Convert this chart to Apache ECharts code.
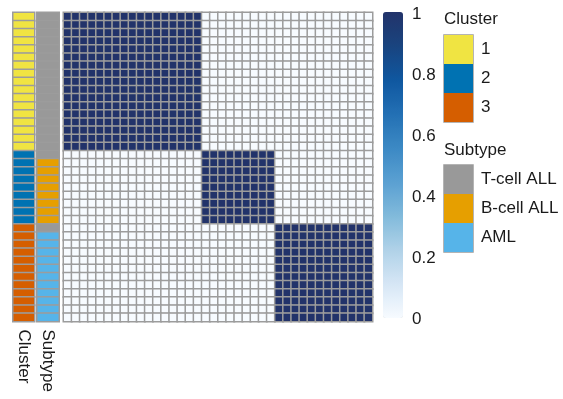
<!DOCTYPE html>
<html>
<head>
<meta charset="utf-8">
<script src="https://cdn.jsdelivr.net/npm/echarts@6/dist/echarts.min.js"></script>
<style>
  html, body { margin: 0; padding: 0; background: #fff; }
  #chart { width: 563px; height: 399px; }
</style>
</head>
<body>
<div id="chart"></div>
<script>
// consensus matrix, one string per sample row (38 samples)
const matrixRows = [
  '11111111111111111000000000000000000000',
  '11111111111111111000000000000000000000',
  '11111111111111111000000000000000000000',
  '11111111111111111000000000000000000000',
  '11111111111111111000000000000000000000',
  '11111111111111111000000000000000000000',
  '11111111111111111000000000000000000000',
  '11111111111111111000000000000000000000',
  '11111111111111111000000000000000000000',
  '11111111111111111000000000000000000000',
  '11111111111111111000000000000000000000',
  '11111111111111111000000000000000000000',
  '11111111111111111000000000000000000000',
  '11111111111111111000000000000000000000',
  '11111111111111111000000000000000000000',
  '11111111111111111000000000000000000000',
  '11111111111111111000000000000000000000',
  '00000000000000000111111111000000000000',
  '00000000000000000111111111000000000000',
  '00000000000000000111111111000000000000',
  '00000000000000000111111111000000000000',
  '00000000000000000111111111000000000000',
  '00000000000000000111111111000000000000',
  '00000000000000000111111111000000000000',
  '00000000000000000111111111000000000000',
  '00000000000000000111111111000000000000',
  '00000000000000000000000000111111111111',
  '00000000000000000000000000111111111111',
  '00000000000000000000000000111111111111',
  '00000000000000000000000000111111111111',
  '00000000000000000000000000111111111111',
  '00000000000000000000000000111111111111',
  '00000000000000000000000000111111111111',
  '00000000000000000000000000111111111111',
  '00000000000000000000000000111111111111',
  '00000000000000000000000000111111111111',
  '00000000000000000000000000111111111111',
  '00000000000000000000000000111111111111'
]

// row annotations
const clusterAnno = [
  1, 1, 1, 1, 1, 1, 1, 1, 1, 1, 1, 1, 1, 1, 1, 1, 1,
  2, 2, 2, 2, 2, 2, 2, 2, 2,
  3, 3, 3, 3, 3, 3, 3, 3, 3, 3, 3, 3
]
// 0 = T-cell ALL, 1 = B-cell ALL, 2 = AML
const subtypeAnno = [
  0, 0, 0, 0, 0, 0, 0, 0, 0, 0, 0, 0, 0, 0, 0, 0, 0,
  0, 1, 1, 1, 1, 1, 1, 1, 1,
  0, 2, 2, 2, 2, 2, 2, 2, 2, 2, 2, 2
]

const clusterLabels = ['1', '2', '3']
const clusterColors = ['#F0E442', '#0072B2', '#D55E00']
const subtypeLabels = ['T-cell ALL', 'B-cell ALL', 'AML']
const subtypeColors = ['#999999', '#E69F00', '#56B4E9']
const colorbarTicks = [0, 0.2, 0.4, 0.6, 0.8, 1]

const FONT = '"Liberation Sans", Arial, Helvetica, sans-serif'
const BORDER = '#9c9c9c'
const n = matrixRows.length
const samples = matrixRows.map((_, i) => 'S' + (i + 1))

const heatData = []
matrixRows.forEach((row, y) => {
  row.split('').forEach((ch, x) => heatData.push([x, y, Number(ch)]))
})
const clusterData = clusterAnno.map((c, i) => [0, i, c])
const subtypeData = subtypeAnno.map((s, i) => [0, i, s])

const chart = echarts.init(document.getElementById('chart'))

const hiddenCat = (data, extra) => Object.assign({
  type: 'category',
  data: data,
  axisLine: { show: false },
  axisTick: { show: false },
  axisLabel: { show: false },
  splitLine: { show: false }
}, extra || {})

const annoGrid = { top: 12.5, height: 309 }

chart.setOption({
  animation: false,
  textStyle: { fontFamily: FONT },
  title: [
    { text: 'Cluster', left: 444, top: 11, padding: 0,
      textStyle: { fontSize: 17, fontWeight: 'normal', color: '#1a1a1a', fontFamily: FONT } },
    { text: 'Subtype', left: 444, top: 142, padding: 0,
      textStyle: { fontSize: 17, fontWeight: 'normal', color: '#1a1a1a', fontFamily: FONT } }
  ],
  grid: [
    Object.assign({ left: 13, width: 21.5 }, annoGrid),
    Object.assign({ left: 37, width: 22 }, annoGrid),
    { left: 63.5, top: 12.5, width: 309, height: 309 },
    // axis for colorbar tick labels
    { left: 383, top: 14, width: 20, height: 305 }
  ],
  xAxis: [
    hiddenCat(['Cluster'], {
      gridIndex: 0,
      axisLabel: { show: true, rotate: -90, margin: 8, fontSize: 17, color: '#1a1a1a' }
    }),
    hiddenCat(['Subtype'], {
      gridIndex: 1,
      axisLabel: { show: true, rotate: -90, margin: 8, fontSize: 17, color: '#1a1a1a' }
    }),
    hiddenCat(samples, { gridIndex: 2 }),
    { type: 'value', gridIndex: 3, show: false }
  ],
  yAxis: [
    hiddenCat(samples, { gridIndex: 0, inverse: true }),
    hiddenCat(samples, { gridIndex: 1, inverse: true }),
    hiddenCat(samples, { gridIndex: 2, inverse: true }),
    {
      type: 'value', gridIndex: 3, min: 0, max: 1, interval: 0.2,
      position: 'right',
      axisLine: { show: false },
      axisTick: { show: false },
      splitLine: { show: false },
      axisLabel: { margin: 9, fontSize: 17, color: '#1a1a1a' },
      data: colorbarTicks
    }
  ],
  visualMap: [
    {
      type: 'continuous',
      seriesIndex: 0,
      dimension: 2,
      min: 0,
      max: 1,
      calculable: false,
      left: 383,
      top: 12,
      padding: 0,
      itemWidth: 20,
      itemHeight: 306,
      text: null,
      inRange: {
        color: ['#f7fbff', '#d6e6f5', '#b0d2e8', '#81badb', '#5aa0d2',
                '#3c89c4', '#2370b4', '#0f57a0', '#19447f', '#22336a']
      }
    },
    {
      type: 'piecewise',
      seriesIndex: 1,
      dimension: 2,
      left: 444,
      top: 35,
      padding: 0,
      inverse: true,
      align: 'left',
      itemWidth: 29,
      itemHeight: 29,
      itemGap: 0,
      itemSymbol: 'rect',
      textGap: 8,
      textStyle: { fontSize: 17, color: '#1a1a1a' },
      pieces: clusterLabels.map((l, i) => ({ value: i + 1, label: l, color: clusterColors[i] }))
    },
    {
      type: 'piecewise',
      seriesIndex: 2,
      dimension: 2,
      left: 444,
      top: 165,
      padding: 0,
      inverse: true,
      align: 'left',
      itemWidth: 29,
      itemHeight: 29,
      itemGap: 0,
      itemSymbol: 'rect',
      textGap: 8,
      textStyle: { fontSize: 17, color: '#1a1a1a' },
      pieces: subtypeLabels.map((l, i) => ({ value: i, label: l, color: subtypeColors[i] }))
    }
  ],
  // outlines around the legend swatches
  graphic: [
    { type: 'rect', shape: { x: 444, y: 35, width: 29, height: 87 },
      style: { fill: 'none', stroke: BORDER, lineWidth: 1.5 }, silent: true },
    { type: 'rect', shape: { x: 444, y: 165, width: 29, height: 87 },
      style: { fill: 'none', stroke: BORDER, lineWidth: 1.5 }, silent: true }
  ],
  series: [
    {
      type: 'heatmap',
      xAxisIndex: 2,
      yAxisIndex: 2,
      data: heatData,
      progressive: 0,
      itemStyle: { borderColor: BORDER, borderWidth: 1.5 },
      emphasis: { disabled: true }
    },
    {
      type: 'heatmap',
      xAxisIndex: 0,
      yAxisIndex: 0,
      data: clusterData,
      itemStyle: { borderColor: BORDER, borderWidth: 1.5 },
      emphasis: { disabled: true }
    },
    {
      type: 'heatmap',
      xAxisIndex: 1,
      yAxisIndex: 1,
      data: subtypeData,
      itemStyle: { borderColor: BORDER, borderWidth: 1.5 },
      emphasis: { disabled: true }
    }
  ]
})
</script>
</body>
</html>
